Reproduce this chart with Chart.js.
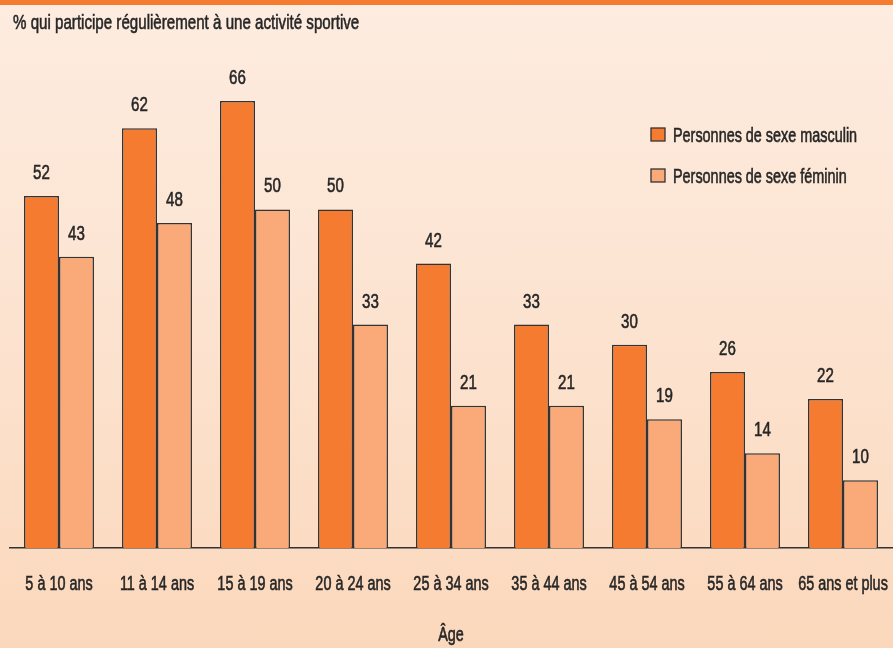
<!DOCTYPE html>
<html>
<head>
<meta charset="utf-8">
<script src="https://cdn.jsdelivr.net/npm/chart.js@4"></script>
<style>
  html, body { margin: 0; padding: 0; }
  body {
    width: 893px; height: 648px; overflow: hidden;
    background: linear-gradient(to bottom, #fdece0 0%, #fce3d0 50%, #fbd8bc 100%);
    position: relative;
  }
  #topbar { position: absolute; left: 0; top: 0; width: 893px; height: 5px; background: #f47b30; }
  #wrap { position: absolute; left: 0; top: 0; width: 893px; height: 648px; }
</style>
</head>
<body>
<div id="topbar"></div>
<div id="wrap"><canvas id="chart"></canvas></div>
<script>
const categories = ['5 à 10 ans', '11 à 14 ans', '15 à 19 ans', '20 à 24 ans', '25 à 34 ans',
                    '35 à 44 ans', '45 à 54 ans', '55 à 64 ans', '65 ans et plus'];
const masculin = [52, 62, 66, 50, 42, 33, 30, 26, 22];
const feminin  = [43, 48, 50, 33, 21, 21, 19, 14, 10];
const seriesNames = ['Personnes de sexe masculin', 'Personnes de sexe féminin'];
const yTitle = '% qui participe régulièrement à une activité sportive';
const xTitle = 'Âge';

const FONT = "'Liberation Sans', Arial, sans-serif";
const NARROW = 0.72; // la police d'origine est très étroite
const TEXT = '#262626';
const DARK = '#f47b30';
const LIGHT = '#f9aa78';
const EDGE = '#333333';

function narrowText(ctx, txt, x, y, size, align) {
  ctx.save();
  ctx.font = size + 'px ' + FONT;
  ctx.textBaseline = 'alphabetic';
  ctx.textAlign = align;
  ctx.translate(x, y);
  ctx.scale(NARROW, 1);
  ctx.fillStyle = TEXT;
  ctx.strokeStyle = TEXT;
  ctx.lineWidth = 0.6;
  ctx.fillText(txt, 0, 0);
  ctx.strokeText(txt, 0, 0);
  ctx.restore();
}

// titre, étiquettes de valeur, catégories et légende dessinés à la main
const extras = {
  id: 'extras',
  afterDraw(chart) {
    const ctx = chart.ctx;
    const xs = chart.scales.x;
    ctx.save();
    // valeurs au-dessus des barres
    chart.data.datasets.forEach((ds, i) => {
      chart.getDatasetMeta(i).data.forEach((bar, j) => {
        narrowText(ctx, String(ds.data[j]), bar.x, bar.y - 17, 21, 'center');
      });
    });
    // libellés des catégories
    chart.data.labels.forEach((lab, j) => {
      narrowText(ctx, lab, xs.getPixelForValue(j), xs.bottom + 42, 20, 'center');
    });
    narrowText(ctx, xTitle, (xs.left + xs.right) / 2, 641, 20, 'center');
    // titre en haut à gauche
    narrowText(ctx, yTitle, 13, 29, 21, 'left');
    // légende
    chart.data.datasets.forEach((ds, i) => {
      const y = 128 + i * 41;
      ctx.fillStyle = ds.backgroundColor;
      ctx.fillRect(651, y, 14, 13);
      ctx.strokeStyle = EDGE;
      ctx.lineWidth = 1.3;
      ctx.strokeRect(651, y, 14, 13);
      narrowText(ctx, ds.label, 673, y + 14, 20, 'left');
    });
    ctx.restore();
  }
};

new Chart(document.getElementById('chart'), {
  type: 'bar',
  data: {
    labels: categories,
    datasets: [
      { label: seriesNames[0], data: masculin, backgroundColor: DARK, borderColor: EDGE, borderWidth: 1.5 },
      { label: seriesNames[1], data: feminin, backgroundColor: LIGHT, borderColor: EDGE, borderWidth: 1.5 }
    ]
  },
  options: {
    responsive: true,
    maintainAspectRatio: false,
    animation: false,
    layout: { padding: { top: 74, left: 10, right: 1, bottom: 100 } },
    datasets: { bar: { categoryPercentage: 0.714, barPercentage: 1.0 } },
    plugins: {
      legend: { display: false },
      tooltip: { enabled: false }
    },
    scales: {
      x: {
        grid: { display: false, drawTicks: false },
        border: { display: true, color: EDGE, width: 1.5 },
        ticks: { display: false }
      },
      y: {
        display: false,
        min: 0,
        max: 70
      }
    }
  },
  plugins: [extras]
});
</script>
</body>
</html>
